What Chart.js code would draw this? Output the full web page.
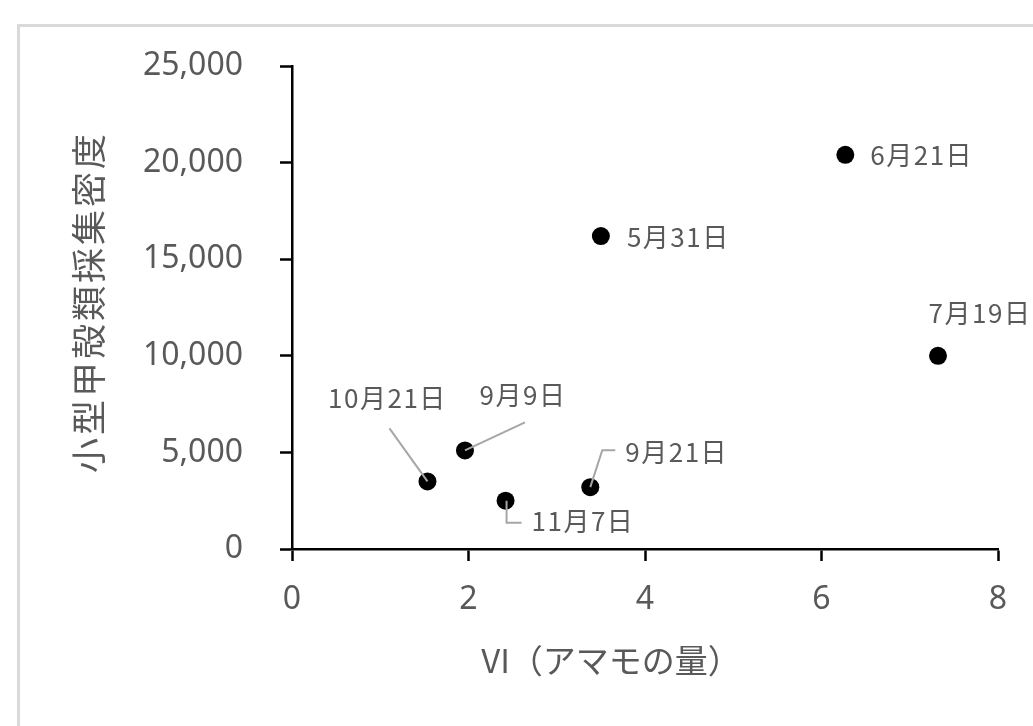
<!DOCTYPE html>
<html lang="ja">
<head>
  <meta charset="UTF-8">
  <title>VI と小型甲殻類採集密度</title>
  <script src="https://cdn.jsdelivr.net/npm/chart.js"></script>
  <style>
    html, body {margin: 0; padding: 0; background: #ffffff; overflow: hidden;}
    .frame {position: absolute; left: 17px; top: 24px; width: 1100px; height: 800px; border: 3px solid #d9d9d9;}
    #chart {position: absolute; left: 0; top: 0;}
  </style>
</head>
<body>
  <div class="frame"></div>
  <canvas id="chart" width="1033" height="726"></canvas>
  <script>
    // data
    const vi = [6.27, 3.50, 7.32, 1.96, 1.535, 2.42, 3.38];
    const density = [20400, 16200, 10000, 5100, 3500, 2500, 3200];
    const dateLabels = ['6月21日', '5月31日', '7月19日', '9月9日', '10月21日', '11月7日', '9月21日'];
    const xTicks = [0, 2, 4, 6, 8];
    const yTicks = [0, 5000, 10000, 15000, 20000, 25000];
    const xTitle = 'VI（アマモの量）';
    const yTitle = '小型甲殻類採集密度';

    // where each date label sits relative to its point (px), plus leader lines
    const labelLayout = [
      {dx: 25, dy: 0, align: 'left'},
      {dx: 26, dy: 1, align: 'left'},
      {dx: 42, dy: -43, align: 'center'},
      {dx: 58, dy: -55, align: 'center', leader: [[0, 0], [60, -28]]},
      {dx: -40, dy: -83, align: 'center', leader: [[-38, -53], [0, 0]]},
      {dx: 26, dy: 20, align: 'left', leader: [[1, 0], [1, 22], [16, 22]]},
      {dx: 35, dy: -35, align: 'left', leader: [[0, 0], [12, -37], [25, -37]]}
    ];

    const gray = '#595959';
    const numFont = "'Noto Sans', 'Noto Sans CJK JP', sans-serif";
    const jpFont = "'Noto Sans CJK JP', 'Noto Sans', sans-serif";

    const labelPlugin = {
      id: 'dateLabels',
      afterDatasetsDraw(chart) {
        const ctx = chart.ctx;
        const pts = chart.getDatasetMeta(0).data;
        ctx.save();
        ctx.strokeStyle = '#a6a6a6';
        ctx.lineWidth = 2;
        ctx.fillStyle = gray;
        ctx.font = '26px ' + jpFont;
        ctx.letterSpacing = '1.5px';
        ctx.textBaseline = 'middle';
        pts.forEach((p, i) => {
          const lay = labelLayout[i];
          if (lay.leader) {
            ctx.beginPath();
            lay.leader.forEach(([dx, dy], j) => {
              if (j === 0) ctx.moveTo(p.x + dx, p.y + dy);
              else ctx.lineTo(p.x + dx, p.y + dy);
            });
            ctx.stroke();
          }
          ctx.textAlign = lay.align;
          ctx.fillText(dateLabels[i], p.x + lay.dx, p.y + lay.dy);
        });
        ctx.restore();
      }
    };

    const titlePlugin = {
      id: 'axisTitles',
      afterDraw(chart) {
        const ctx = chart.ctx;
        const area = chart.chartArea;
        ctx.save();
        ctx.fillStyle = gray;
        ctx.textAlign = 'center';
        ctx.textBaseline = 'middle';
        ctx.font = '33px ' + jpFont;
        ctx.fillText(xTitle, area.left + 319, area.bottom + 111);
        ctx.translate(89, area.top + 236);
        ctx.rotate(-Math.PI / 2);
        ctx.font = '35px ' + jpFont;
        ctx.letterSpacing = '3px';
        ctx.fillText(yTitle, 0, 0);
        ctx.restore();
      }
    };

    const axisLine = {color: '#000000', width: 2.5};
    const tickGrid = {drawOnChartArea: false, drawTicks: true, tickLength: 12, tickColor: '#000000', tickWidth: 2.5};

    new Chart(document.getElementById('chart'), {
      type: 'scatter',
      data: {
        datasets: [{
          data: vi.map((v, i) => ({x: v, y: density[i]})),
          backgroundColor: '#000000',
          borderWidth: 0,
          pointRadius: 9,
          pointHoverRadius: 9
        }]
      },
      options: {
        responsive: false,
        animation: false,
        layout: {padding: {top: 66, right: 35, left: 0, bottom: 0}},
        plugins: {legend: {display: false}, tooltip: {enabled: false}},
        scales: {
          x: {
            type: 'linear',
            min: xTicks[0],
            max: xTicks[xTicks.length - 1],
            ticks: {stepSize: xTicks[1] - xTicks[0], padding: 20, color: gray, font: {family: numFont, size: 32}},
            grid: tickGrid,
            border: axisLine,
            afterFit: s => { s.height = 177; }
          },
          y: {
            type: 'linear',
            min: yTicks[0],
            max: yTicks[yTicks.length - 1],
            ticks: {stepSize: yTicks[1] - yTicks[0], padding: 37, color: gray, font: {family: numFont, size: 32}},
            grid: tickGrid,
            border: axisLine,
            afterFit: s => { s.width = 292; }
          }
        }
      },
      plugins: [labelPlugin, titlePlugin]
    });
  </script>
</body>
</html>
